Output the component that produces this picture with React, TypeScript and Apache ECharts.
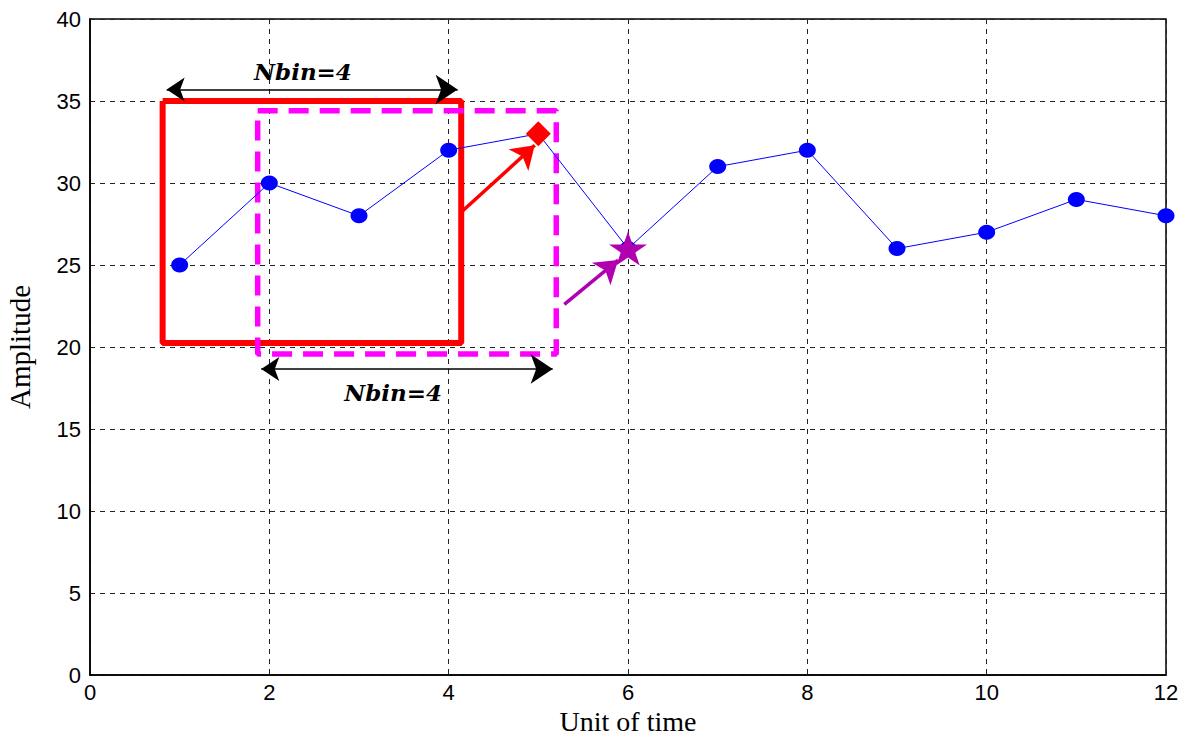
import React, { useEffect, useRef } from "react";
import * as echarts from "echarts";

const timeUnits = [1, 2, 3, 4, 5, 6, 7, 8, 9, 10, 11, 12];
const amplitude = [25, 30, 28, 32, 33, 26, 31, 32, 26, 27, 29, 28];
const xTicks = [0, 2, 4, 6, 8, 10, 12];
const yTicks = [0, 5, 10, 15, 20, 25, 30, 35, 40];
const redWindow = [[0.81, 35], [4.14, 35], [4.14, 20.24], [0.81, 20.24], [0.81, 35]];
const magentaWindow = [[1.87, 34.4], [5.2, 34.4], [5.2, 19.57], [1.87, 19.57], [1.87, 34.4]];
const nextPoint = [5, 33];
const starPoint = [6, 26];
const topSpan = [[0.855, 35.7], [4.1, 35.7]];
const bottomSpan = [[1.91, 18.66], [5.16, 18.66]];
const redArrow = [[4.145, 28.25], [4.96, 32.3]];
const magentaArrow = [[5.29, 22.6], [5.89, 25.3]];
const labelTop = [2.375, 36.77];
const labelBottom = [3.38, 17.2];
const binLabel = "Nbin=4";

const STAR = "path://M50,0 L61.23,34.55 L97.55,34.55 L68.17,55.9 L79.39,90.45 L50,69.1 L20.61,90.45 L31.83,55.9 L2.45,34.55 L38.77,34.55 Z";

export default function App() {
  const ref = useRef<HTMLDivElement>(null);
  useEffect(() => {
    if (!ref.current) return;
    const chart = echarts.init(ref.current, null, { renderer: "svg" });
    const gridLine = { show: true, lineStyle: { color: "#222", type: [5, 5], width: 1 } };
    chart.setOption({
      animation: false,
      backgroundColor: "#fff",
      grid: {
        left: 90, right: 21, top: 19, bottom: 62, outerBoundsMode: "none", containLabel: false,
        show: true, borderColor: "#000", borderWidth: 1.5, backgroundColor: "transparent",
      },
      xAxis: {
        type: "value", min: 0, max: 12, interval: 2,
        name: "Unit of time", nameLocation: "middle", nameGap: 26,
        nameTextStyle: { fontFamily: "Liberation Serif", fontSize: 28, color: "#000" },
        axisLine: { show: true, lineStyle: { color: "#000", width: 1.5 } },
        axisTick: { show: false },
        axisLabel: { fontFamily: "Liberation Sans", fontSize: 22, color: "#000", margin: 6, formatter: (v: number) => (xTicks.includes(v) ? String(v) : "") },
        splitLine: gridLine,
      },
      yAxis: {
        type: "value", min: 0, max: 40, interval: 5,
        name: "Amplitude", nameLocation: "middle", nameGap: 56, nameRotate: 90,
        nameTextStyle: { fontFamily: "Liberation Serif", fontSize: 29, color: "#000" },
        axisLine: { show: true, lineStyle: { color: "#000", width: 1.5 } },
        axisTick: { show: false },
        axisLabel: { fontFamily: "Liberation Sans", fontSize: 22, color: "#000", margin: 9, formatter: (v: number) => (yTicks.includes(v) ? String(v) : "") },
        splitLine: gridLine,
      },
      series: [
        {
          type: "line", data: redWindow, symbol: "none", z: 3,
          lineStyle: { color: "#ff0000", width: 6 },
        },
        {
          type: "line", data: magentaWindow, symbol: "none", z: 3,
          lineStyle: { color: "#ff00ff", width: 5.5, type: [20, 11] },
        },
        {
          type: "line", z: 4,
          data: timeUnits.map((t, i) => (t === nextPoint[0] ? { value: [t, amplitude[i]], symbol: "none" } : [t, amplitude[i]])),
          symbol: "circle", symbolSize: [17, 15], showAllSymbol: true,
          lineStyle: { color: "#0000ff", width: 1 },
          itemStyle: { color: "#0000ff", opacity: 1 },
        },
        {
          type: "scatter", z: 6, data: [nextPoint], symbol: "diamond", symbolSize: [25, 25],
          itemStyle: { color: "#ff0000", opacity: 1 },
        },
        {
          type: "scatter", z: 6, data: [starPoint], symbol: STAR, symbolSize: [38, 34],
          itemStyle: { color: "#b000b0", opacity: 1 },
        },
        {
          type: "lines", coordinateSystem: "cartesian2d", z: 5,
          symbol: ["arrow", "arrow"], symbolSize: [18, 22],
          lineStyle: { color: "#000", width: 1.5, opacity: 1 },
          data: [{ coords: topSpan }, { coords: bottomSpan }],
        },
        {
          type: "lines", coordinateSystem: "cartesian2d", z: 5,
          symbol: ["none", "arrow"], symbolSize: 22,
          lineStyle: { color: "#ff0000", width: 3.5, opacity: 1 },
          data: [{ coords: redArrow }],
        },
        {
          type: "lines", coordinateSystem: "cartesian2d", z: 5,
          symbol: ["none", "arrow"], symbolSize: 22,
          lineStyle: { color: "#b000b0", width: 3.5, opacity: 1 },
          data: [{ coords: magentaArrow }],
        },
        {
          type: "scatter", z: 7, symbolSize: 0, silent: true,
          itemStyle: { opacity: 1 },
          data: [labelTop, labelBottom],
          label: {
            show: true, position: "inside", formatter: () => binLabel,
            fontFamily: "DejaVu Serif", fontStyle: "italic", fontWeight: "bold", fontSize: 23, color: "#000",
          },
        },
      ],
    });
    return () => chart.dispose();
  }, []);
  return <div ref={ref} style={{ position: "fixed", left: 0, top: 0, width: 1187, height: 737 }} />;
}
